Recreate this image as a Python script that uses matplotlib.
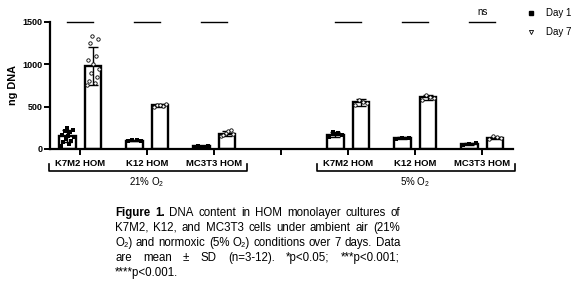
import numpy as np
import matplotlib
matplotlib.use("Agg")
import matplotlib.pyplot as plt
from matplotlib.transforms import blended_transform_factory
from matplotlib.lines import Line2D

plt.rcParams['font.family'] = ['Liberation Sans', 'DejaVu Sans']
plt.rcParams['mathtext.fontset'] = 'custom'
plt.rcParams['mathtext.rm'] = 'Liberation Sans'
plt.rcParams['mathtext.it'] = 'Liberation Sans:italic'
plt.rcParams['mathtext.bf'] = 'Liberation Sans:bold'

# ---- data ----
cell_lines = ["K7M2 HOM", "K12 HOM", "MC3T3 HOM"]
conditions = ["21% O$_2$", "5% O$_2$"]
series = ["Day 1", "Day 7"]
# means [condition][cell line]
day1_mean = [[150, 100, 30], [170, 125, 58]]
day7_mean = [[975, 515, 180], [550, 610, 135]]
day1_sd = [[70, 10, 8], [30, 12, 8]]
day7_sd = [[225, 15, 30], [45, 30, 12]]
day1_points = [
    [[40, 60, 80, 100, 120, 140, 150, 170, 200, 210, 230, 250], [90, 100, 105, 110], [20, 25, 30, 35, 28]],
    [[140, 160, 190, 200], [115, 125, 135], [50, 60, 65]],
]
day7_points = [
    [[760, 780, 800, 850, 900, 950, 1000, 1050, 1100, 1250, 1300, 1330], [500, 510, 520, 530, 515], [150, 170, 190, 210, 230, 180]],
    [[520, 540, 560, 580], [580, 600, 620, 640], [120, 130, 140, 150]],
]
sig_labels = [["", "", ""], ["", "", "ns"]]
yticks = [0, 500, 1000, 1500]

caption_lines = [
    [("Figure 1.", True), ("DNA content in HOM monolayer cultures of", False)],
    [("K7M2, K12, and MC3T3 cells under ambient air (21%", False)],
    [("O\u2082) and normoxic (5% O\u2082) conditions over 7 days. Data", False)],
    [("are mean \u00b1 SD (n=3-12). *p<0.05; ***p<0.001;", False)],
    [("****p<0.001.", False)],
]

W, H = 584, 284
fig = plt.figure(figsize=(W / 100, H / 100), dpi=100)
ax_l, ax_r, ax_top, ax_bot = 50, 513, 22, 149
ax = fig.add_axes([ax_l / W, 1 - ax_bot / H, (ax_r - ax_l) / W, (ax_bot - ax_top) / H])

bw = 0.25
off = 0.19
positions = []
for ci in range(2):
    for li in range(3):
        positions.append((ci, li, ci * 4 + li))

for ci, li, x in positions:
    for s, (means, sds, pts, filled) in enumerate([
            (day1_mean, day1_sd, day1_points, True),
            (day7_mean, day7_sd, day7_points, False)]):
        xc = x + (-off if s == 0 else off)
        m = means[ci][li]
        ax.bar(xc, m, width=bw, color="white", edgecolor="black", linewidth=1.7, zorder=2)
        ax.errorbar(xc, m, yerr=sds[ci][li], fmt="none", ecolor="black", elinewidth=1.0,
                    capsize=3.5, capthick=1.0, zorder=3)
        p = pts[ci][li]
        n = len(p)
        jit = np.linspace(-bw * 0.38, bw * 0.38, n) if n > 1 else np.array([0.0])
        jit = jit[np.argsort(np.arange(n) * 7 % n)]
        if filled:
            ax.scatter(xc + jit, p, marker="s", s=5, color="black", zorder=4, linewidths=0)
        else:
            ax.scatter(xc + jit, p, marker="o", s=6, facecolor="white", edgecolor="black",
                       linewidths=0.6, zorder=4)
    # significance line
    ax.plot([x - off, x + off], [1500, 1500], color="black", lw=1.0, clip_on=False)
    lab = sig_labels[ci][li]
    if lab:
        ax.text(x, 1560, lab, ha="center", va="bottom", fontsize=7)

ax.set_xlim(-0.45, 6.46)
ax.set_ylim(0, 1500)
ax.set_yticks(yticks)
ax.set_yticklabels([str(v) for v in yticks], fontsize=6.5, fontweight="bold")
ax.set_xticks(range(7))
ax.set_xticklabels([])
for sp in ["top", "right"]:
    ax.spines[sp].set_visible(False)
for sp in ["left", "bottom"]:
    ax.spines[sp].set_linewidth(1.6)
ax.tick_params(axis="both", width=1.4, length=4, pad=1.5)
ax.set_ylabel("ng DNA", fontsize=7.8, fontweight="bold", labelpad=3)
ax.patch.set_alpha(0)

trans = blended_transform_factory(ax.transData, ax.transAxes)
hpx = ax_bot - ax_top
for ci in range(2):
    for li in range(3):
        ax.text(ci * 4 + li, -14 / hpx, cell_lines[li], transform=trans, ha="center", va="center",
                fontsize=6.8, fontweight="bold")
    c = ci * 4 + 1
    x0, x1 = c - 1.46, c + 1.49
    yb, yt = -22 / hpx, -15 / hpx
    ax.plot([x0, x0, x1, x1], [yt, yb, yb, yt], transform=trans, color="black", lw=1.2,
            clip_on=False)
    ax.text(c, -33 / hpx, conditions[ci], transform=trans, ha="center", va="center", fontsize=7)

# legend
for i, (name, filled) in enumerate(zip(series, [True, False])):
    ypx = 13 + i * 19
    if filled:
        fig.add_artist(Line2D([531 / W], [1 - ypx / H], marker="s", ms=2.2, color="black", lw=0))
    else:
        fig.add_artist(Line2D([531 / W], [1 - ypx / H], marker="v", ms=3, mfc="white", mec="black",
                              mew=0.6, lw=0))
    fig.text(546 / W, 1 - ypx / H, name, fontsize=7, va="center", ha="left")

# justified caption
fig.canvas.draw()
renderer = fig.canvas.get_renderer()
left, right = 115, 400
fs = 8.3
base0, lstep = 216, 15.0


def width_of(s, bold):
    t = fig.text(0, 0, s, fontsize=fs, fontweight="bold" if bold else "normal")
    w = t.get_window_extent(renderer).width
    t.remove()
    return w


space_w = width_of("a b", False) - width_of("ab", False)
for li, segs in enumerate(caption_lines):
    words = []
    for s, bold in segs:
        for w in s.split(" "):
            words.append((w, bold))
    widths = [width_of(w, b) for w, b in words]
    base = base0 + li * lstep
    last = li == len(caption_lines) - 1
    if last or len(words) == 1:
        gap = space_w
    else:
        gap = max((right - left - sum(widths)) / (len(words) - 1), space_w * 0.6)
    x = left
    for (w, b), wd in zip(words, widths):
        fig.text(x / W, 1 - base / H, w, fontsize=fs, fontweight="bold" if b else "normal",
                 ha="left", va="baseline")
        x += wd + gap

fig.savefig("out.png", dpi=100)
